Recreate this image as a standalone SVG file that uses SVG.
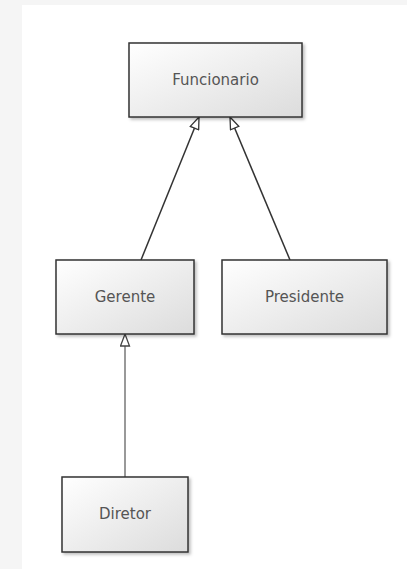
<svg xmlns="http://www.w3.org/2000/svg" width="407" height="569" viewBox="0 0 407 569">
  <defs>
    <linearGradient id="boxGrad" x1="0" y1="0" x2="1" y2="1">
      <stop offset="0" stop-color="#ffffff"/>
      <stop offset="1" stop-color="#dcdcdc"/>
    </linearGradient>
    <filter id="shadow" x="-10%" y="-10%" width="125%" height="130%">
      <feDropShadow dx="2" dy="2" stdDeviation="1.5" flood-color="#000" flood-opacity="0.25"/>
    </filter>
    <marker id="tri" viewBox="0 0 14 11" refX="13" refY="5.5" markerWidth="14" markerHeight="11" markerUnits="userSpaceOnUse" orient="auto">
      <path d="M1,1 L13,5.5 L1,10 Z" fill="#ffffff" stroke="#333333" stroke-width="1.3"/>
    </marker>
    <marker id="triGray" viewBox="0 0 14 11" refX="13" refY="5.5" markerWidth="14" markerHeight="11" markerUnits="userSpaceOnUse" orient="auto">
      <path d="M1,1 L13,5.5 L1,10 Z" fill="#ffffff" stroke="#444444" stroke-width="1.3"/>
    </marker>
  </defs>
  <style>
    .box { fill: url(#boxGrad); stroke: #333333; stroke-width: 1.5; filter: url(#shadow); }
    .lbl { font-family: "DejaVu Sans", sans-serif; font-size: 15px; fill: #555555; text-anchor: middle; }
    .edge { fill: none; stroke: #333333; stroke-width: 1.5; marker-end: url(#tri); }
    .edge2 { fill: none; stroke: #999999; stroke-width: 2; marker-end: url(#triGray); }
  </style>
  <rect x="0" y="0" width="407" height="569" fill="#f5f5f5"/>
  <rect x="22" y="5" width="385" height="564" fill="#ffffff"/>

  <g id="connectors">
    <line class="edge" x1="141" y1="260" x2="199" y2="117"/>
    <line class="edge" x1="290" y1="260" x2="230" y2="117"/>
    <line class="edge2" x1="125" y1="477" x2="125" y2="334"/>
  </g>

  <g id="funcionario">
    <rect class="box" x="129" y="43" width="173" height="74"/>
    <text class="lbl" x="215.5" y="85">Funcionario</text>
  </g>
  <g id="gerente">
    <rect class="box" x="56" y="260" width="138" height="74"/>
    <text class="lbl" x="125" y="302">Gerente</text>
  </g>
  <g id="presidente">
    <rect class="box" x="222" y="260" width="165" height="74"/>
    <text class="lbl" x="304.5" y="302">Presidente</text>
  </g>
  <g id="diretor">
    <rect class="box" x="62" y="477" width="126" height="75"/>
    <text class="lbl" x="125" y="519">Diretor</text>
  </g>
</svg>
